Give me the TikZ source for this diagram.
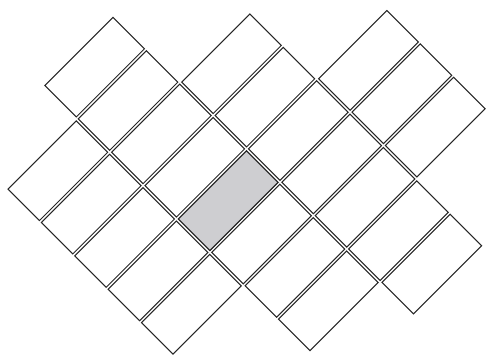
\documentclass[tikz,border=0pt]{standalone}
\definecolor{tilegray}{RGB}{206,206,209}
\tikzset{
    tile/.style={draw=black!85, line width=0.6pt, line join=miter},
    seltile/.style={tile, fill=tilegray}
}
\begin{document}
\begin{tikzpicture}
\useasboundingbox (0,-7.2) rectangle (9.96,0);
\begin{scope}[rotate=45]
% columns of tiles: column / first row / last row
\foreach \col/\first/\last in {0/1/5, 1/0/7, 2/2/8, 3/4/6}{
    \foreach \row in {\first,...,\last}{
        \draw[tile] ({-2.560+\col*1.984},{-1.844-\row*0.944})
            -- ++(1.929,0) -- ++(0,-0.889) -- ++(-1.929,0) -- cycle;
    }
}
% the marked tile
\draw[seltile] ({-2.560+1*1.984},{-1.844-4*0.944})
    -- ++(1.929,0) -- ++(0,-0.889) -- ++(-1.929,0) -- cycle;
\end{scope}
\end{tikzpicture}
\end{document}
